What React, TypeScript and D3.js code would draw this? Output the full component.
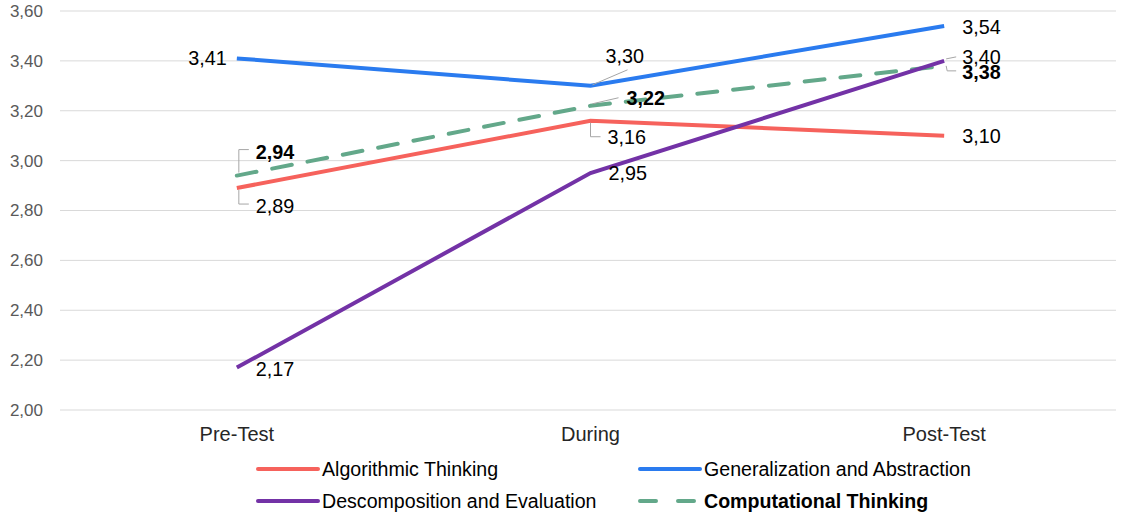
import React from "react";
import * as d3 from "d3";

const phases = ["Pre-Test", "During", "Post-Test"];
const algorithmic = [2.89, 3.16, 3.1];
const generalization = [3.41, 3.3, 3.54];
const decomposition = [2.17, 2.95, 3.4];
const computational = [2.94, 3.22, 3.38];
const yTicks = [2.0, 2.2, 2.4, 2.6, 2.8, 3.0, 3.2, 3.4, 3.6];

type Series = { name: string; values: number[]; color: string; dashed?: boolean; bold?: boolean };

const series: Series[] = [
  { name: "Algorithmic Thinking", values: algorithmic, color: "#F6625C" },
  { name: "Generalization and Abstraction", values: generalization, color: "#2A7BEF" },
  { name: "Computational Thinking", values: computational, color: "#63A88A", dashed: true, bold: true },
  { name: "Descomposition and Evaluation", values: decomposition, color: "#7332A6" },
];

const legendOrder = [0, 1, 3, 2];

// label placement per series/point: text offset (dx, dy) from point, anchor, optional leader polyline (relative to point)
type LabelPos = { dx: number; dy: number; anchor?: string; leader?: [number, number][] };
const labelLayout: Record<string, LabelPos[]> = {
  "Algorithmic Thinking": [
    { dx: 19, dy: 18, leader: [[2, 2], [2, 16], [12, 16]] },
    { dx: 17, dy: 16, leader: [[0, 2], [0, 16], [10, 16]] },
    { dx: 18, dy: 0 },
  ],
  "Generalization and Abstraction": [
    { dx: -10, dy: 0, anchor: "end" },
    { dx: 15, dy: -30, leader: [[2, -1], [37, -16]] },
    { dx: 18, dy: 1 },
  ],
  "Computational Thinking": [
    { dx: 19, dy: -24, leader: [[2, -3], [2, -26], [12, -26]] },
    { dx: 36, dy: -8, leader: [[2, -2], [28, -8]] },
    { dx: 18, dy: 6, leader: [[2, 0], [3, 5], [12, 5]] },
  ],
  "Descomposition and Evaluation": [
    { dx: 19, dy: 1 },
    { dx: 18, dy: 0 },
    { dx: 18, dy: -4, leader: [[2, -2], [12, -4]] },
  ],
};

const W = 1121;
const H = 515;
const left = 60;
const right = 1121;
const top = 11;
const bottom = 410;

const fmt = (v: number) => v.toFixed(2).replace(".", ",");

export default function App() {
  const x = d3.scaleBand<string>().domain(phases).range([left, right]);
  const y = d3.scaleLinear().domain([2.0, 3.6]).range([bottom, top]);
  const cx = (p: string) => (x(p) ?? 0) + x.bandwidth() / 2;
  const line = d3
    .line<number>()
    .x((_, i) => cx(phases[i]))
    .y((d) => y(d));

  const font = "Liberation Sans, Arial, Helvetica, sans-serif";

  return (
    <svg
      width={W}
      height={H}
      style={{ position: "absolute", left: 0, top: 0, background: "#fff" }}
      fontFamily={font}
    >
      {yTicks.map((t) => (
        <g key={t}>
          <line x1={left} x2={1116} y1={y(t)} y2={y(t)} stroke="#D9D9D9" strokeWidth={1} />
          <text x={43} y={y(t)} dy="0.35em" textAnchor="end" fontSize={17} fill="#595959">
            {fmt(t)}
          </text>
        </g>
      ))}
      {phases.map((p) => (
        <text key={p} x={cx(p)} y={441} textAnchor="middle" fontSize={20} fill="#262626">
          {p}
        </text>
      ))}
      {series.map((s) => (
        <path
          key={s.name}
          d={line(s.values) ?? ""}
          fill="none"
          stroke={s.color}
          strokeWidth={4}
          strokeLinecap={s.dashed ? "round" : "butt"}
          strokeDasharray={s.dashed ? "20 16" : undefined}
        />
      ))}
      {series.map((s) =>
        s.values.map((v, i) => {
          const px = cx(phases[i]);
          const py = y(v);
          const lp = labelLayout[s.name][i];
          return (
            <g key={s.name + i}>
              {lp.leader && (
                <polyline
                  points={lp.leader.map(([a, b]) => `${px + a},${py + b}`).join(" ")}
                  fill="none"
                  stroke="#A6A6A6"
                  strokeWidth={1}
                />
              )}
              <text
                x={px + lp.dx}
                y={py + lp.dy}
                dy="0.35em"
                textAnchor={lp.anchor ?? "start"}
                fontSize={19.8}
                fontWeight={s.bold ? "bold" : "normal"}
                fill="#000"
              >
                {fmt(v)}
              </text>
            </g>
          );
        })
      )}
      {legendOrder.map((idx, k) => {
        const s = series[idx];
        const lx = k % 2 === 0 ? 258 : 640;
        const ly = k < 2 ? 469 : 501;
        return (
          <g key={s.name}>
            <line
              x1={lx}
              x2={lx + 60}
              y1={ly}
              y2={ly}
              stroke={s.color}
              strokeWidth={4}
              strokeLinecap="round"
              strokeDasharray={s.dashed ? "16 22" : undefined}
            />
            <text
              x={lx + 64}
              y={ly}
              dy="0.35em"
              fontSize={19.6}
              fontWeight={s.bold ? "bold" : "normal"}
              fill="#000"
            >
              {s.name}
            </text>
          </g>
        );
      })}
    </svg>
  );
}
